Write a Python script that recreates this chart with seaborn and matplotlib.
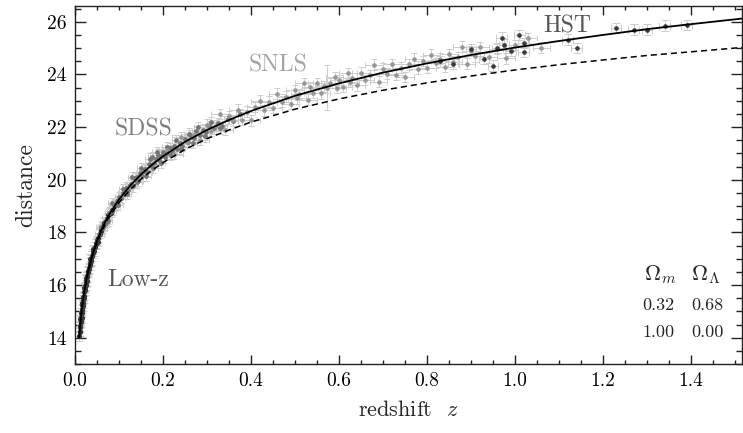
import matplotlib
matplotlib.use("Agg")
import matplotlib.pyplot as plt
from matplotlib.ticker import MultipleLocator, FormatStrFormatter
import seaborn as sns
import pandas as pd

# --- Modellkurven ---
CURVE_Z = [0.0095, 0.0125, 0.015, 0.0175, 0.02, 0.025, 0.03, 0.04, 0.05, 0.06, 0.075,
           0.1, 0.125, 0.15, 0.175, 0.2, 0.25, 0.3, 0.35, 0.4, 0.5, 0.6, 0.7, 0.8,
           0.9, 1.0, 1.1, 1.2, 1.3, 1.4, 1.52]
LCDM_MU = [14.00, 14.61, 15.00, 15.35, 15.64, 16.14, 16.54, 17.18, 17.68, 18.10, 18.61,
           19.25, 19.77, 20.20, 20.57, 20.89, 21.44, 21.89, 22.27, 22.61, 23.19, 23.66, 24.07, 24.42,
           24.74, 25.02, 25.27, 25.50, 25.72, 25.91, 26.13]
EDS_MU = [14.00, 14.60, 14.98, 15.33, 15.62, 16.11, 16.50, 17.13, 17.62, 18.02, 18.52,
          19.13, 19.62, 20.02, 20.36, 20.65, 21.15, 21.56, 21.89, 22.19, 22.68, 23.07, 23.40, 23.68,
          23.94, 24.17, 24.37, 24.55, 24.72, 24.86, 25.03]

# --- Supernovae ---
LOWZ_Z = [0.010, 0.0105, 0.011, 0.0115, 0.012, 0.0125, 0.013, 0.0135, 0.014, 0.0145, 0.015,
          0.015, 0.0155, 0.016, 0.0165, 0.017, 0.0175, 0.018, 0.0185, 0.019, 0.0195, 0.020,
          0.021, 0.0215, 0.022, 0.023, 0.0235, 0.024, 0.0245, 0.025, 0.026, 0.0265, 0.027,
          0.028, 0.0285, 0.029, 0.030, 0.031, 0.032, 0.033, 0.034, 0.035, 0.036, 0.037, 0.038,
          0.040, 0.041, 0.042, 0.044, 0.045, 0.047, 0.048, 0.050, 0.052, 0.053, 0.056, 0.058,
          0.060, 0.062, 0.064, 0.066, 0.068, 0.070, 0.072, 0.075, 0.078, 0.082, 0.085, 0.090]
LOWZ_MU = [14.05, 14.25, 14.20, 14.40, 14.45, 14.70, 14.60, 14.65, 14.80, 14.95, 14.95,
           14.75, 15.05, 15.10, 15.30, 15.25, 15.20, 15.30, 15.55, 15.45, 15.50, 15.60,
           15.75, 15.90, 15.80, 15.95, 15.90, 16.00, 16.20, 16.10, 16.25, 16.15, 16.30,
           16.35, 16.50, 16.50, 16.55, 16.60, 16.65, 16.75, 16.85, 17.00, 16.95, 16.90, 17.10,
           17.20, 17.35, 17.30, 17.30, 17.45, 17.60, 17.55, 17.70, 17.65, 17.80, 17.95, 18.05,
           18.10, 18.15, 18.25, 18.35, 18.40, 18.40, 18.50, 18.65, 18.70, 18.75, 18.85, 19.05]
LOWZ_DMU = 0.18

SDSS_Z = [0.055, 0.058, 0.062, 0.068, 0.072, 0.075, 0.078, 0.083, 0.085, 0.088, 0.092, 0.096,
          0.098, 0.100, 0.104, 0.108, 0.110, 0.112, 0.116, 0.118, 0.120, 0.124, 0.128, 0.130,
          0.132, 0.136, 0.140, 0.142, 0.144, 0.148, 0.150, 0.152, 0.156, 0.160, 0.162, 0.164,
          0.168, 0.170, 0.172, 0.176, 0.178, 0.180, 0.184, 0.186, 0.188, 0.192, 0.195, 0.196,
          0.200, 0.205, 0.208, 0.210, 0.215, 0.218, 0.220, 0.226, 0.230, 0.232, 0.238, 0.240,
          0.244, 0.250, 0.256, 0.258, 0.262, 0.268, 0.270, 0.276, 0.280, 0.283, 0.290, 0.295,
          0.297, 0.305, 0.310, 0.315, 0.325, 0.330, 0.335, 0.348, 0.360, 0.375]
SDSS_MU = [17.95, 18.20, 18.15, 18.30, 18.55, 18.45, 18.75, 18.80, 19.10, 19.05, 19.00, 19.20,
           19.05, 19.35, 19.30, 19.50, 19.65, 19.45, 19.70, 19.45, 19.60, 19.80, 19.85, 20.10,
           19.75, 20.05, 20.10, 19.90, 19.95, 20.25, 20.45, 20.15, 20.35, 20.40, 20.15, 20.30,
           20.60, 20.80, 20.55, 20.85, 20.45, 20.65, 20.80, 21.05, 20.95, 20.75, 20.65, 20.90,
           21.05, 20.85, 21.25, 21.00, 21.20, 20.95, 21.10, 21.30, 21.50, 21.15, 21.40, 21.15,
           21.30, 21.55, 21.45, 21.75, 21.70, 21.40, 21.60, 21.85, 22.00, 21.70, 21.90, 21.65,
           21.80, 22.05, 22.20, 21.95, 22.15, 21.95, 22.05, 22.30, 22.25, 22.50]
SDSS_DZ, SDSS_DMU = 0.01, 0.2

SNLS_Z = [0.21, 0.225, 0.24, 0.255, 0.27, 0.285, 0.30, 0.31, 0.32, 0.33, 0.34, 0.35, 0.36,
          0.37, 0.38, 0.39, 0.40, 0.41, 0.42, 0.43, 0.44, 0.45, 0.46, 0.47, 0.48, 0.49, 0.50,
          0.505, 0.51, 0.52, 0.53, 0.535, 0.54, 0.55, 0.56, 0.565, 0.573, 0.58, 0.59, 0.595,
          0.60, 0.61, 0.62, 0.625, 0.63, 0.64, 0.65, 0.66, 0.67, 0.68, 0.69, 0.70, 0.71, 0.72,
          0.73, 0.74, 0.75, 0.76, 0.77, 0.78, 0.79, 0.80, 0.81, 0.82, 0.83, 0.84, 0.85, 0.86,
          0.87, 0.88, 0.89, 0.90, 0.91, 0.92, 0.94, 0.96, 0.98, 1.00, 1.03, 1.06]
SNLS_MU = [21.12, 20.99, 21.63, 21.44, 21.70, 21.51, 22.09, 21.85, 22.06, 22.50, 21.89, 22.42,
           22.26, 22.66, 22.27, 22.59, 22.26, 22.77, 23.01, 22.64, 22.97, 22.73, 23.27, 22.97,
           23.16, 22.88, 23.39, 23.09, 23.26, 23.67, 23.04, 23.51, 23.30, 23.68, 23.28, 23.55,
           23.50, 23.67, 23.89, 23.49, 23.78, 23.52, 24.04, 23.71, 23.86, 23.58, 24.07, 23.79,
           23.97, 24.37, 23.73, 24.22, 24.03, 24.39, 23.98, 24.26, 23.90, 24.38, 24.60, 24.20,
           24.51, 24.24, 24.75, 24.43, 24.60, 24.30, 24.78, 24.49, 24.66, 25.06, 24.41, 24.89,
           24.69, 25.04, 24.65, 24.96, 24.61, 25.12, 25.38, 25.02]
SNLS_DMU = [0.2] * 36 + [0.85] + [0.2] * 43
SNLS_DZ = 0.02

HST_Z = [0.83, 0.86, 0.90, 0.93, 0.95, 0.96, 0.97, 0.975, 0.99, 1.01, 1.02, 1.02, 1.12, 1.14,
         1.23, 1.27, 1.30, 1.34, 1.39]
HST_MU = [24.50, 24.40, 24.95, 24.60, 24.33, 25.00, 25.40, 25.13, 24.90, 25.50, 25.20, 24.86,
          25.32, 25.00, 25.77, 25.70, 25.70, 25.85, 25.88]
HST_DZ, HST_DMU = 0.012, 0.2

LABELS = ["Low-z", "SDSS", "SNLS", "HST"]
LABEL_POS = [(0.143, 15.97), (0.155, 21.68), (0.461, 24.11), (1.118, 25.58)]
OMEGA_M = ["0.32", "1.00"]
OMEGA_L = ["0.68", "0.00"]

sns.set_style("ticks")
plt.rcParams["font.family"] = ["cmr10", "DejaVu Serif"]
plt.rcParams["mathtext.fontset"] = "cm"
plt.rcParams["axes.formatter.use_mathtext"] = True

fig = plt.figure(figsize=(7.43, 4.33), dpi=100)
ax = fig.add_axes([75 / 743, 1 - 364 / 433, 667 / 743, 358 / 433])

ERR = dict(fmt="none", ecolor="#cdcdcd", elinewidth=0.7, capthick=0.7, zorder=1)
ax.errorbar(LOWZ_Z, LOWZ_MU, yerr=LOWZ_DMU, capsize=3.2, **ERR)
ax.errorbar(SDSS_Z, SDSS_MU, xerr=SDSS_DZ, yerr=SDSS_DMU, capsize=2.2, **ERR)
ax.errorbar(SNLS_Z, SNLS_MU, xerr=SNLS_DZ, yerr=SNLS_DMU, capsize=2.2, **ERR)
ax.errorbar(HST_Z, HST_MU, xerr=HST_DZ, yerr=HST_DMU, capsize=2.6, **ERR)

sets = [(LOWZ_Z, LOWZ_MU, "#3a3a3a", 14), (SDSS_Z, SDSS_MU, "#767676", 12),
        (SNLS_Z, SNLS_MU, "#979797", 11), (HST_Z, HST_MU, "#3a3a3a", 11)]
for zz, mm, col, sz in sets:
    sns.scatterplot(x=zz, y=mm, ax=ax, color=col, s=sz, linewidth=0, zorder=2)

df_curve = pd.DataFrame({"z": CURVE_Z, "lcdm": LCDM_MU, "eds": EDS_MU})
sns.lineplot(data=df_curve, x="z", y="lcdm", ax=ax, color="black", lw=1.3, zorder=3)
sns.lineplot(data=df_curve, x="z", y="eds", ax=ax, color="black", lw=1.1,
             linestyle=(0, (4, 2.6)), zorder=3)

label_colors = ["#555555", "#808080", "#a3a3a3", "#555555"]
for txt, (lx, ly), col in zip(LABELS, LABEL_POS, label_colors):
    ax.text(lx, ly, txt, color=col, fontsize=17, ha="center", va="baseline")

# kleine Tabelle unten rechts
ax.text(1.330, 16.2, r"$\Omega_m$", fontsize=16, ha="center", va="baseline")
ax.text(1.434, 16.2, r"$\Omega_\Lambda$", fontsize=16, ha="center", va="baseline")
for i, (om, ol) in enumerate(zip(OMEGA_M, OMEGA_L)):
    yy = [15.06, 14.02][i]
    ax.text(1.326, yy, om, fontsize=13, ha="center", va="baseline")
    ax.text(1.437, yy, ol, fontsize=13, ha="center", va="baseline")

ax.set_xlim(0, 1.516)
ax.set_ylim(13.0, 26.6)
ax.xaxis.set_major_locator(MultipleLocator(0.2))
ax.xaxis.set_minor_locator(MultipleLocator(0.05))
ax.yaxis.set_major_locator(MultipleLocator(2))
ax.yaxis.set_minor_locator(MultipleLocator(0.5))
ax.xaxis.set_major_formatter(FormatStrFormatter("%.1f"))
ax.yaxis.set_major_formatter(FormatStrFormatter("%d"))
ax.tick_params(which="both", direction="in", top=True, right=True, width=1.0,
               colors="#222222", labelsize=14, labelcolor="black")
ax.tick_params(axis="x", which="major", length=6.5, pad=6)
ax.tick_params(axis="x", which="minor", length=3)
ax.tick_params(axis="y", which="major", length=8, pad=6)
ax.tick_params(axis="y", which="minor", length=4.5)
for sp in ax.spines.values():
    sp.set_linewidth(1.0)
    sp.set_color("#222222")

ax.set_xlabel(r"redshift  $z$", fontsize=16, labelpad=7)
ax.set_ylabel("distance", fontsize=17, labelpad=7)

fig.savefig("out.png", dpi=100)
